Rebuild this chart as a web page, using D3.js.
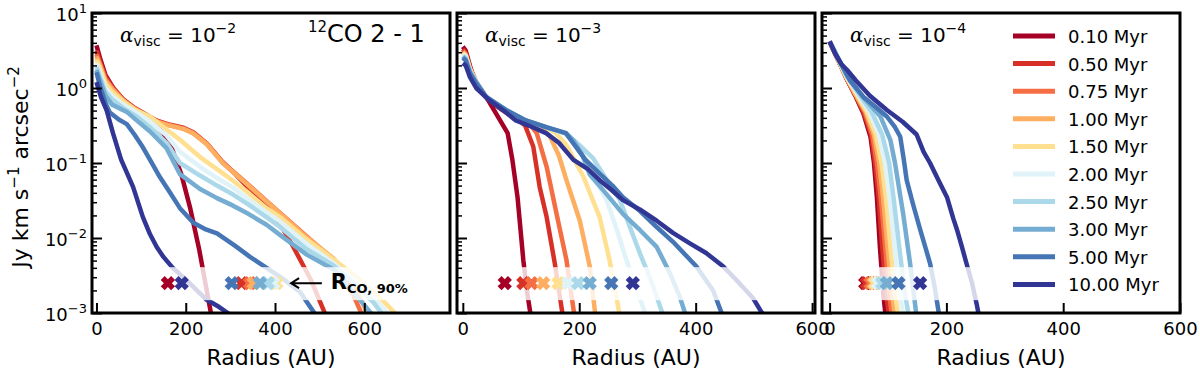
<!DOCTYPE html>
<html>
<head>
<meta charset="utf-8">
<script src="https://cdn.jsdelivr.net/npm/d3@7"></script>
<style>
  body { margin: 0; background: #fff; }
  text { font-family: "DejaVu Sans", sans-serif; fill: #000; }
</style>
</head>
<body>
<div id="chart"></div>
<script>
// ages and colours (RdYlBu)
const ages = ["0.10", "0.50", "0.75", "1.00", "1.50", "2.00", "2.50", "3.00", "5.00", "10.00"];
const ageColors = ["#a50026", "#d73027", "#f46d43", "#fdae61", "#fee090", "#e0f3f8", "#abd9e9", "#74add1", "#4575b4", "#313695"];

const alphaExp = ["\u22122", "\u22123", "\u22124"];
const xTicks = [0, 200, 400, 600];
const yTicks = [1e-3, 1e-2, 1e-1, 1, 10];
const yTickExp = ["\u22123", "\u22122", "\u22121", "0", "1"];

// radial profiles [radius (AU), intensity (Jy km/s/arcsec^2)], one list per age
const prof_a2 = [
  [[0,3.7],[8,2.5],[20,1.5],[40,0.95],[65,0.63],[95,0.47],[125,0.355],[150,0.25],[170,0.151],[190,0.071],[210,0.025],[230,0.0071],[250,0.0016],[258,0.00089]],
  [[0,3.16],[8,2.24],[20,1.41],[35,1.05],[60,0.71],[82,0.56],[110,0.447],[134,0.37],[160,0.33],[195,0.295],[217,0.257],[247,0.182],[280,0.107],[310,0.072],[340,0.047],[370,0.032],[400,0.02],[441,0.0076],[480,0.0028],[515,0.00089]],
  [[0,2.82],[8,2.1],[20,1.32],[35,1.0],[60,0.69],[82,0.55],[110,0.437],[134,0.363],[160,0.324],[195,0.288],[217,0.25],[247,0.182],[284,0.1],[336,0.054],[396,0.026],[471,0.0105],[530,0.0052],[565,0.0024],[597,0.00089]],
  [[0,2.63],[8,2.0],[20,1.26],[35,0.97],[60,0.68],[82,0.54],[110,0.43],[134,0.355],[160,0.32],[195,0.285],[217,0.248],[247,0.178],[284,0.098],[336,0.053],[396,0.0255],[471,0.0102],[530,0.0054],[575,0.0026],[610,0.00089]],
  [[0,2.4],[8,1.82],[20,1.15],[35,0.89],[60,0.66],[90,0.5],[120,0.417],[157,0.28],[187,0.204],[232,0.12],[270,0.083],[306,0.058],[340,0.04],[381,0.025],[411,0.019],[471,0.0095],[531,0.0052],[590,0.0028],[635,0.0016],[677,0.00089]],
  [[0,2.14],[8,1.58],[20,1.0],[35,0.79],[60,0.6],[90,0.47],[120,0.355],[157,0.234],[187,0.141],[232,0.089],[270,0.063],[306,0.047],[340,0.033],[381,0.022],[411,0.0166],[471,0.0083],[531,0.0046],[590,0.0024],[625,0.0015],[660,0.00089]],
  [[0,1.91],[8,1.41],[20,0.89],[35,0.71],[60,0.54],[90,0.417],[120,0.3],[157,0.186],[187,0.1],[232,0.068],[270,0.05],[306,0.038],[340,0.028],[381,0.019],[411,0.014],[471,0.0071],[531,0.0043],[590,0.0021],[620,0.0014],[645,0.00089]],
  [[0,1.74],[8,1.26],[20,0.79],[35,0.6],[68,0.48],[90,0.37],[120,0.263],[157,0.158],[187,0.071],[232,0.045],[270,0.034],[306,0.027],[340,0.021],[381,0.015],[411,0.011],[471,0.006],[531,0.0038],[590,0.0015],[622,0.00089]],
  [[0,1.62],[8,1.05],[20,0.63],[30,0.47],[50,0.38],[68,0.33],[85,0.24],[104,0.162],[122,0.105],[142,0.065],[165,0.04],[187,0.025],[217,0.016],[245,0.013],[270,0.0115],[310,0.0079],[344,0.0056],[381,0.004],[420,0.0028],[456,0.0019],[494,0.00089]],
  [[0,1.2],[10,0.76],[23,0.5],[37,0.25],[55,0.112],[82,0.048],[104,0.019],[120,0.0112],[135,0.0076],[150,0.0056],[171,0.004],[200,0.0028],[225,0.002],[247,0.0015],[275,0.0012],[306,0.00089]]
];

const prof_a3 = [
  [[0,3.55],[5,3.16],[12,2.0],[20,1.26],[30,0.955],[45,0.66],[60,0.417],[77,0.25],[85,0.112],[94,0.035],[104,0.005],[110,0.002],[117,0.00089]],
  [[0,3.3],[5,2.95],[12,1.91],[23,1.2],[40,0.76],[60,0.56],[80,0.437],[95,0.38],[107,0.316],[121,0.166],[132,0.048],[144,0.019],[158,0.0046],[172,0.00089]],
  [[0,3.16],[5,2.82],[12,1.86],[23,1.2],[40,0.76],[60,0.575],[80,0.457],[100,0.39],[115,0.33],[127,0.25],[144,0.089],[161,0.021],[178,0.0051],[192,0.00089]],
  [[0,3.0],[5,2.75],[12,1.82],[23,1.2],[40,0.76],[74,0.5],[108,0.37],[135,0.3],[150,0.224],[165,0.126],[178,0.059],[201,0.017],[218,0.0042],[228,0.00089]],
  [[0,2.95],[5,2.7],[12,1.78],[23,1.2],[40,0.76],[74,0.5],[108,0.37],[143,0.3],[160,0.25],[178,0.174],[193,0.105],[207,0.066],[235,0.019],[252,0.0051],[270,0.00089]],
  [[0,2.82],[5,2.63],[12,1.74],[23,1.2],[40,0.76],[74,0.51],[108,0.37],[143,0.3],[177,0.24],[195,0.178],[207,0.132],[227,0.063],[247,0.032],[265,0.0126],[281,0.0051],[298,0.0022],[315,0.00089]],
  [[0,2.7],[5,2.51],[12,1.7],[23,1.2],[40,0.76],[74,0.51],[108,0.37],[143,0.3],[177,0.25],[200,0.174],[224,0.115],[247,0.06],[270,0.032],[287,0.014],[304,0.0063],[325,0.0025],[345,0.00089]],
  [[0,2.63],[5,2.4],[12,1.66],[23,1.2],[40,0.76],[74,0.51],[108,0.37],[143,0.3],[177,0.25],[190,0.2],[205,0.13],[218,0.07],[245,0.04],[275,0.021],[305,0.0126],[333,0.0076],[355,0.0035],[372,0.0017],[384,0.00089]],
  [[0,2.51],[5,2.34],[12,1.58],[23,1.15],[40,0.76],[74,0.51],[108,0.37],[143,0.3],[177,0.25],[190,0.182],[210,0.112],[235,0.072],[257,0.05],[275,0.035],[304,0.023],[333,0.014],[361,0.0089],[401,0.0042],[430,0.002],[447,0.00089]],
  [[0,2.14],[5,2.0],[12,1.41],[23,1.0],[45,0.69],[70,0.5],[91,0.37],[120,0.3],[143,0.25],[165,0.186],[190,0.11],[215,0.083],[235,0.059],[255,0.044],[275,0.032],[304,0.024],[333,0.017],[361,0.0117],[390,0.0085],[418,0.0063],[447,0.0042],[475,0.0025],[498,0.0016],[518,0.00089]]
];

const prof_a4 = [
  [[0,4.17],[10,2.82],[20,1.91],[30,1.29],[45,0.76],[58,0.457],[70,0.224],[76,0.1],[81,0.035],[86,0.0079],[92,0.0018],[96,0.00089]],
  [[0,4.17],[10,2.82],[20,1.91],[30,1.29],[45,0.78],[58,0.48],[71,0.24],[78,0.1],[84,0.035],[90,0.0079],[97,0.0018],[102,0.00089]],
  [[0,4.17],[10,2.82],[20,1.91],[30,1.32],[45,0.79],[60,0.48],[73,0.24],[81,0.1],[88,0.032],[95,0.0079],[102,0.0018],[107,0.00089]],
  [[0,4.17],[10,2.82],[20,1.91],[30,1.32],[45,0.81],[62,0.48],[76,0.24],[85,0.1],[92,0.032],[99,0.0079],[107,0.0018],[112,0.00089]],
  [[0,4.17],[10,2.88],[20,1.95],[30,1.35],[47,0.81],[64,0.48],[79,0.24],[89,0.1],[97,0.032],[104,0.0079],[112,0.0018],[118,0.00089]],
  [[0,4.17],[10,2.88],[20,2.0],[30,1.38],[50,0.79],[68,0.48],[84,0.24],[95,0.1],[103,0.032],[111,0.0079],[120,0.0018],[127,0.00089]],
  [[0,4.17],[10,2.95],[20,2.04],[30,1.41],[52,0.79],[72,0.48],[90,0.24],[102,0.1],[110,0.032],[119,0.0079],[129,0.0018],[136,0.00089]],
  [[0,4.17],[10,2.95],[20,2.04],[30,1.45],[55,0.79],[78,0.5],[87,0.417],[104,0.204],[112,0.1],[126,0.021],[138,0.0045],[149,0.00089]],
  [[0,4.17],[10,2.88],[20,2.09],[35,1.26],[58,0.76],[80,0.55],[98,0.417],[112,0.3],[121,0.224],[127,0.112],[132,0.059],[143,0.028],[155,0.013],[172,0.0046],[180,0.0022],[188,0.00089]],
  [[0,4.17],[10,2.82],[20,2.09],[30,1.74],[45,1.26],[69,0.79],[98,0.51],[125,0.355],[149,0.24],[161,0.141],[172,0.1],[186,0.06],[201,0.035],[212,0.018],[218,0.013],[226,0.0079],[235,0.0044],[244,0.0025],[252,0.0013],[256,0.00089]]
];

// R_CO,90% per age (AU), drawn at a fixed intensity level
const rco90_a2 = [160, 325, 344, 352, 403, 396, 384, 366, 303, 191];
const rco90_a3 = [72, 104, 118, 138, 164, 181, 198, 218, 255, 292];
const rco90_a4 = [61, 64, 70, 75, 78, 83, 90, 98, 118, 155];
const rcoLevel = 2.5e-3;

const panels = [
  { prof: prof_a2, rco: rco90_a2, exp: alphaExp[0], left: 92,  xdom: [-10, 792] },
  { prof: prof_a3, rco: rco90_a3, exp: alphaExp[1], left: 457, xdom: [-10, 605] },
  { prof: prof_a4, rco: rco90_a4, exp: alphaExp[2], left: 822, xdom: [-13, 600] }
];

const W = 1200, H = 370;
const pw = 358, plotTop = 13, plotBottom = 313;

const svg = d3.select("#chart").append("svg")
  .attr("width", W).attr("height", H);

const y = d3.scaleLog().domain([1e-3, 10]).range([plotBottom, plotTop]);
const minorTicks = y.ticks().filter(v => Math.abs(Math.log10(v) - Math.round(Math.log10(v))) > 1e-6);

const line = (x) => d3.line().x(d => x(d[0])).y(d => y(d[1]));

// thick filled plus, rotated 45deg below to give matplotlib's "X" marker
const plusThick = {
  draw(ctx, size) {
    const r = Math.sqrt(size) / 2, w = r * 0.38;
    ctx.moveTo(-w, -r); ctx.lineTo(w, -r); ctx.lineTo(w, -w); ctx.lineTo(r, -w);
    ctx.lineTo(r, w); ctx.lineTo(w, w); ctx.lineTo(w, r); ctx.lineTo(-w, r);
    ctx.lineTo(-w, w); ctx.lineTo(-r, w); ctx.lineTo(-r, -w); ctx.lineTo(-w, -w);
    ctx.closePath();
  }
};
const cross = d3.symbol().type(plusThick).size(215);

panels.forEach((p, pi) => {
  const x = d3.scaleLinear().domain(p.xdom).range([p.left, p.left + pw]);
  const g = svg.append("g");

  g.append("clipPath").attr("id", "clip" + pi)
    .append("rect").attr("x", p.left).attr("y", plotTop).attr("width", pw).attr("height", plotBottom - plotTop);

  const plot = g.append("g").attr("clip-path", `url(#clip${pi})`);

  plot.selectAll("path.prof")
    .data(p.prof)
    .enter().append("path")
    .attr("class", "prof")
    .attr("d", line(x))
    .attr("fill", "none")
    .attr("stroke", (d, i) => ageColors[i])
    .attr("stroke-width", 4.5)
    .attr("stroke-linejoin", "round");

  // translucent strip behind the markers
  plot.append("rect")
    .attr("x", p.left).attr("width", pw)
    .attr("y", y(rcoLevel) - 16).attr("height", 33)
    .attr("fill", "#fff").attr("opacity", 0.8);

  plot.selectAll("path.rco")
    .data(p.rco)
    .enter().append("path")
    .attr("class", "rco")
    .attr("d", cross)
    .attr("transform", d => `translate(${x(d)},${y(rcoLevel)}) rotate(45)`)
    .attr("fill", (d, i) => ageColors[i]);

  // axes
  const xAxis = d3.axisBottom(x).tickValues(xTicks).tickSizeInner(-10).tickSizeOuter(0).tickPadding(9);
  const ax = g.append("g").attr("transform", `translate(0,${plotBottom})`).call(xAxis);
  ax.select(".domain").remove();
  ax.selectAll("line").attr("stroke-width", 2);
  ax.selectAll("text").attr("font-size", 18).attr("font-family", "DejaVu Sans");

  const yMajor = d3.axisLeft(y).tickValues(yTicks).tickSizeInner(-10).tickSizeOuter(0).tickFormat("");
  const ay = g.append("g").attr("transform", `translate(${p.left},0)`).call(yMajor);
  ay.select(".domain").remove();
  ay.selectAll("line").attr("stroke-width", 2);

  const yMinor = d3.axisLeft(y).tickValues(minorTicks).tickSizeInner(-5).tickSizeOuter(0).tickFormat("");
  const am = g.append("g").attr("transform", `translate(${p.left},0)`).call(yMinor);
  am.select(".domain").remove();
  am.selectAll("line").attr("stroke-width", 1.5);

  // frame
  g.append("rect")
    .attr("x", p.left).attr("y", plotTop).attr("width", pw).attr("height", plotBottom - plotTop)
    .attr("fill", "none").attr("stroke", "#000").attr("stroke-width", 3);

  // alpha label
  const t = g.append("text").attr("x", p.left + 28).attr("y", 42).attr("font-size", 20);
  t.append("tspan").attr("font-style", "italic").attr("font-family", "DejaVu Serif").text("\u03b1");
  t.append("tspan").attr("font-size", 14).attr("dy", 4).text("visc");
  t.append("tspan").attr("dy", -4).text(" = 10");
  t.append("tspan").attr("font-size", 14).attr("dy", -9).text(p.exp);

  g.append("text").attr("x", p.left + pw / 2).attr("y", 365)
    .attr("text-anchor", "middle").attr("font-size", 22).text("Radius (AU)");

  if (pi === 0) {
    yTicks.forEach((v, i) => {
      const lt = g.append("text").attr("x", 87).attr("y", y(v) + 8)
        .attr("text-anchor", "end").attr("font-size", 18);
      lt.append("tspan").text("10");
      lt.append("tspan").attr("font-size", 13).attr("dy", -8).text(yTickExp[i]);
    });

    const co = g.append("text").attr("x", 308).attr("y", 42).attr("font-size", 24);
    co.append("tspan").attr("font-size", 15).attr("dy", -10).text("12");
    co.append("tspan").attr("dy", 10).text("CO 2 - 1");

    // R_CO,90% arrow annotation
    const ay0 = y(rcoLevel);
    const xa = x(436), xb = x(505);
    g.append("path")
      .attr("d", `M${xb},${ay0}H${xa + 1}M${xa + 8},${ay0 - 5}L${xa},${ay0}L${xa + 8},${ay0 + 5}`)
      .attr("fill", "none").attr("stroke", "#000").attr("stroke-width", 2);
    const rt = g.append("text").attr("x", x(525)).attr("y", ay0 + 6)
      .attr("font-size", 21).attr("font-weight", "bold");
    rt.append("tspan").text("R");
    rt.append("tspan").attr("font-size", 13).attr("dy", 4).text("CO, 90%");
  }

  if (pi === 2) {
    const lg = g.append("g");
    ages.forEach((a, i) => {
      const ly = 36 + i * 27.6;
      lg.append("line").attr("x1", 1013).attr("x2", 1055).attr("y1", ly).attr("y2", ly)
        .attr("stroke", ageColors[i]).attr("stroke-width", 5);
      lg.append("text").attr("x", 1068).attr("y", ly + 7).attr("font-size", 18).text(a + " Myr");
    });
  }
});

// y label
const yl = svg.append("text")
  .attr("transform", "translate(28,167) rotate(-90)")
  .attr("text-anchor", "middle").attr("font-size", 22);
yl.append("tspan").text("Jy km s");
yl.append("tspan").attr("font-size", 15).attr("dy", -9).text("\u22121");
yl.append("tspan").attr("dy", 9).text(" arcsec");
yl.append("tspan").attr("font-size", 15).attr("dy", -9).text("\u22122");
</script>
</body>
</html>
